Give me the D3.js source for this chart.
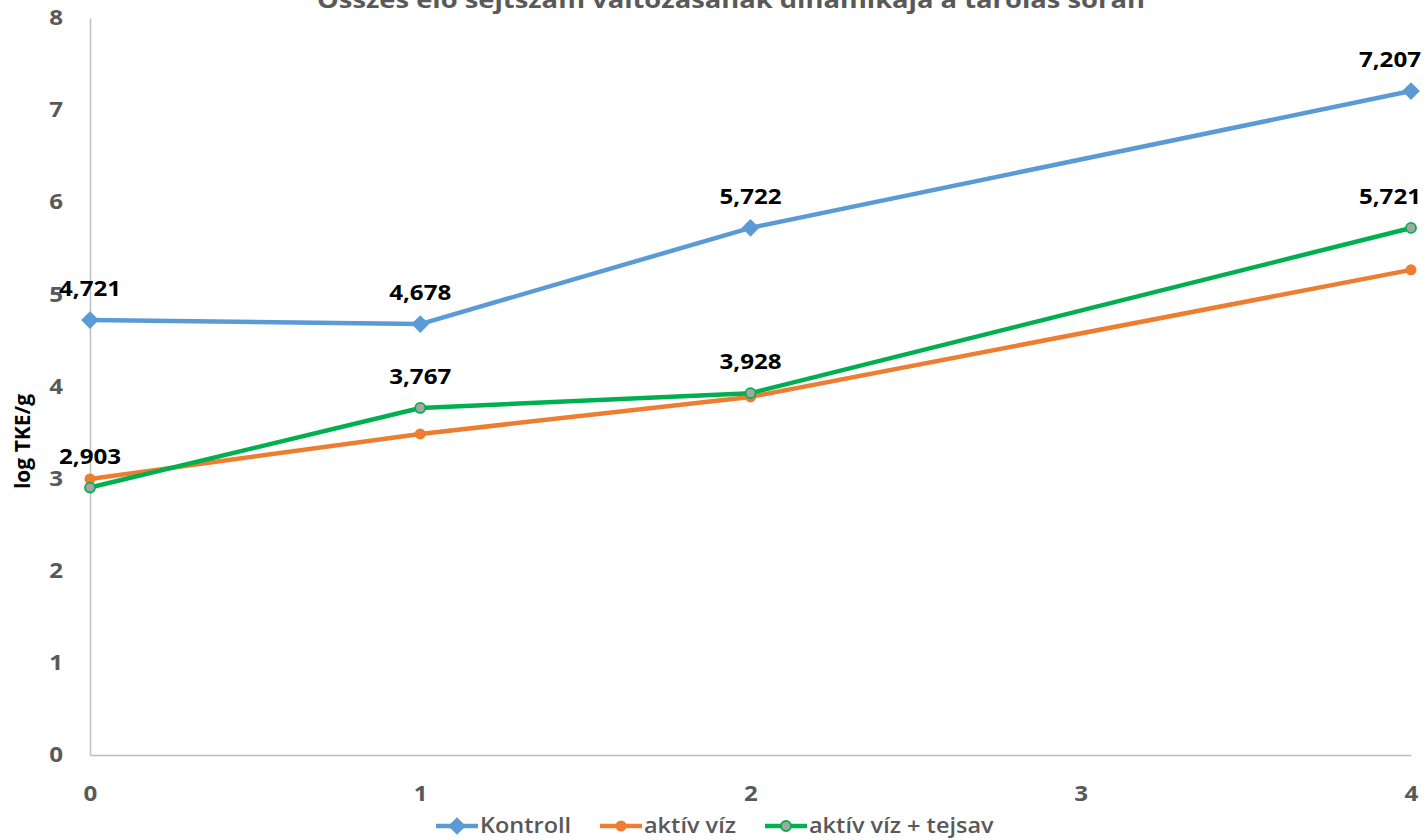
<!DOCTYPE html>
<html>
<head>
<meta charset="utf-8">
<script src="https://cdn.jsdelivr.net/npm/d3@7"></script>
<style>
  html, body { margin: 0; padding: 0; background: #fff; }
  svg { display: block; }
  text { font-family: "Open Sans", Lato, "Liberation Sans", sans-serif; }
</style>
</head>
<body>
<svg id="chart" width="1427" height="840"></svg>
<script>
// Storage time points (x) and measured values, log TKE/g
const days = [0, 1, 2, 4];
const kontroll = [4.721, 4.678, 5.722, 7.207];
const aktivViz = [2.997, 3.485, 3.887, 5.266];
const aktivVizTejsav = [2.903, 3.767, 3.928, 5.721];
const xTicks = [0, 1, 2, 3, 4];
const yTicks = [0, 1, 2, 3, 4, 5, 6, 7, 8];
const seriesNames = ["Kontroll", "aktív víz", "aktív víz + tejsav"];
const titleText = "Összes élő sejtszám változásának dinamikája a tárolás során";
const yTitle = "log TKE/g";

const series = [
  { name: seriesNames[0], values: kontroll, color: "#5B9BD5", marker: "diamond", labels: true },
  { name: seriesNames[1], values: aktivViz, color: "#ED7D31", marker: "circle", labels: false },
  { name: seriesNames[2], values: aktivVizTejsav, color: "#00B050", marker: "ring", labels: true }
];

const svg = d3.select("#chart");
const x = d3.scaleLinear().domain([0, 4]).range([90, 1411]);
const y = d3.scaleLinear().domain([0, 8]).range([755, 18]);

// Widen glyphs horizontally around each text's own anchor point
function stretch(sel, sx) {
  sel.each(function () {
    const ax = +this.getAttribute("x") || 0;
    d3.select(this).attr("transform", `translate(${ax},0) scale(${sx},1) translate(${-ax},0)`);
  });
}

// Title (partly above the top edge)
svg.append("text")
  .attr("x", 731).attr("y", 8)
  .attr("text-anchor", "middle")
  .attr("font-size", 24).attr("font-weight", 700)
  .attr("fill", "#595959")
  .text(titleText)
  .call(stretch, 1.14);

// Axes
const xAxis = svg.append("g").attr("transform", `translate(0,${y(0)})`)
  .call(d3.axisBottom(x).tickValues(xTicks).tickSize(0).tickPadding(31).tickFormat(d3.format("d")));
const yAxis = svg.append("g").attr("transform", `translate(${x(0)},0)`)
  .call(d3.axisLeft(y).tickValues(yTicks).tickSize(0).tickPadding(27).tickFormat(d3.format("d")));
[xAxis, yAxis].forEach(g => {
  g.select(".domain").attr("stroke", "#BFBFBF").attr("stroke-width", 1.5);
  g.selectAll("text")
    .attr("font-family", "'Open Sans', Lato, sans-serif")
    .attr("font-size", 21).attr("font-weight", 700).attr("fill", "#595959")
    .call(stretch, 1.15);
});

// Y axis title
svg.append("text")
  .attr("transform", `translate(30,${(y(0) + y(8)) / 2 + 55}) rotate(-90)`)
  .attr("text-anchor", "middle")
  .attr("font-size", 21).attr("font-weight", 700).attr("fill", "#000")
  .text(yTitle);

// Lines
const line = d3.line().x((d, i) => x(days[i])).y(d => y(d));
series.forEach(s => {
  svg.append("path")
    .datum(s.values)
    .attr("fill", "none")
    .attr("stroke", s.color)
    .attr("stroke-width", 4.5)
    .attr("stroke-linejoin", "round")
    .attr("d", line);
});

function drawMarker(g, s, cx, cy) {
  if (s.marker === "diamond") {
    g.append("path")
      .attr("d", d3.symbol().type(d3.symbolDiamond2).size(200)())
      .attr("transform", `translate(${cx},${cy})`)
      .attr("fill", s.color);
  } else if (s.marker === "circle") {
    g.append("circle").attr("cx", cx).attr("cy", cy).attr("r", 5.5).attr("fill", s.color);
  } else {
    g.append("circle").attr("cx", cx).attr("cy", cy).attr("r", 5)
      .attr("fill", "#A5A5A5").attr("stroke", s.color).attr("stroke-width", 1.8);
  }
}

// Markers
series.forEach(s => {
  const g = svg.append("g");
  s.values.forEach((v, i) => drawMarker(g, s, x(days[i]), y(v)));
});

// Data labels (last point's label kept inside the chart area)
const fmt = v => d3.format(".3f")(v).replace(".", ",");
series.filter(s => s.labels).forEach(s => {
  svg.append("g").selectAll("text")
    .data(s.values)
    .join("text")
    .attr("x", (d, i) => days[i] === 4 ? 1421 : x(days[i]))
    .attr("y", d => y(d) - 24)
    .attr("text-anchor", (d, i) => days[i] === 4 ? "end" : "middle")
    .attr("font-size", 21).attr("font-weight", 700).attr("fill", "#000")
    .text(fmt)
    .call(stretch, 1.15);
});

// Legend
const legendX = [436, 600, 765];
series.forEach((s, i) => {
  const g = svg.append("g").attr("transform", `translate(${legendX[i]},826)`);
  g.append("line").attr("x1", 0).attr("x2", 42).attr("y1", 0).attr("y2", 0)
    .attr("stroke", s.color).attr("stroke-width", 4.5);
  drawMarker(g, s, 21, 0);
  g.append("text").attr("x", 44).attr("y", 0).attr("dy", "0.35em")
    .attr("font-size", 21).attr("font-weight", 600).attr("fill", "#595959")
    .text(s.name)
    .call(stretch, 1.12);
});
</script>
</body>
</html>
